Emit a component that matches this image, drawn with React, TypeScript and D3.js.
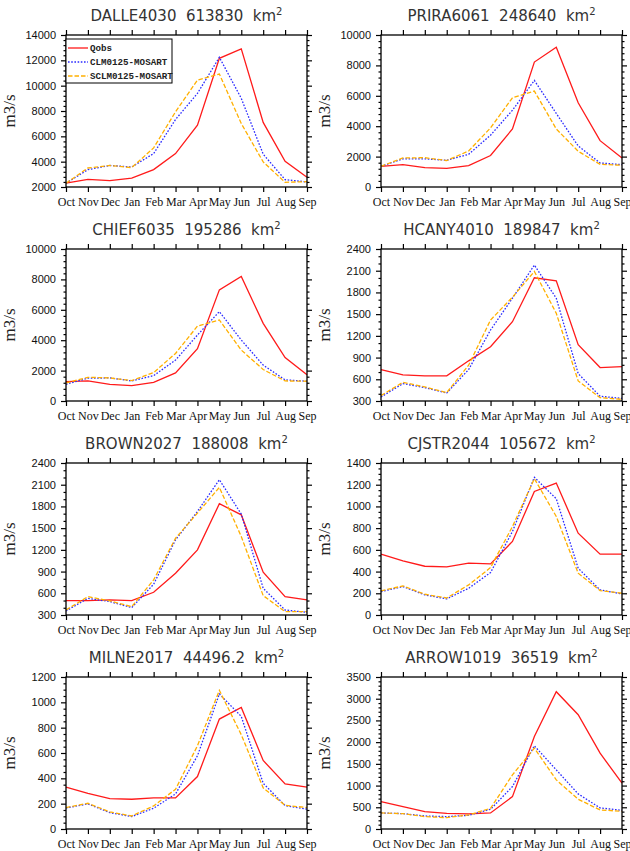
import React, { useRef, useEffect } from "react";
import * as d3 from "d3";

const months = ["Oct", "Nov", "Dec", "Jan", "Feb", "Mar", "Apr", "May", "Jun", "Jul", "Aug", "Sep"];
const seriesNames = ["Qobs", "CLM0125-MOSART", "SCLM0125-MOSART"];
const seriesColors = ["#ff1a1a", "#2b2bff", "#ffb000"];
const seriesDash = [null, "1.6 1.6", "4.5 2"];

const stations = ["DALLE4030", "PRIRA6061", "CHIEF6035", "HCANY4010", "BROWN2027", "CJSTR2044", "MILNE2017", "ARROW1019"];
const areas = ["613830", "248640", "195286", "189847", "188008", "105672", "44496.2", "36519"];

const yMins = [2000, 0, 0, 300, 300, 0, 0, 0];
const yMaxs = [14000, 10000, 10000, 2400, 2400, 1400, 1200, 3500];
const yMajor = [2000, 2000, 2000, 300, 300, 200, 200, 500];
const yMinor = [400, 400, 400, 100, 100, 50, 50, 100];

const dalleObs = [2300, 2600, 2500, 2700, 3370, 4640, 6880, 12160, 12900, 7100, 4030, 2770];
const dalleClm = [2300, 3370, 3700, 3580, 4640, 7330, 9390, 12240, 9000, 4590, 2580, 2400];
const dalleSclm = [2300, 3500, 3700, 3530, 5090, 7940, 10440, 10920, 7010, 3980, 2370, 2420];

const priraObs = [1360, 1470, 1270, 1230, 1410, 2070, 3820, 8220, 9190, 5540, 3050, 1910];
const priraClm = [1360, 1850, 1850, 1760, 2150, 3410, 5050, 7010, 4840, 2700, 1580, 1470];
const priraSclm = [1360, 1910, 1930, 1740, 2370, 3890, 5870, 6310, 3820, 2350, 1490, 1430];

const chiefObs = [1280, 1320, 1100, 1010, 1230, 1850, 3440, 7310, 8190, 5110, 2860, 1720];
const chiefClm = [1100, 1500, 1520, 1320, 1670, 2690, 4340, 5880, 4010, 2360, 1390, 1300];
const chiefSclm = [1190, 1560, 1520, 1340, 1870, 3130, 4930, 5330, 3350, 2070, 1320, 1300];

const hcanyObs = [735, 661, 647, 647, 855, 1049, 1396, 2002, 1960, 1077, 762, 776];
const hcanyClm = [355, 540, 485, 411, 735, 1281, 1720, 2178, 1720, 679, 365, 337];
const hcanySclm = [374, 559, 494, 416, 795, 1419, 1734, 2090, 1512, 577, 346, 323];

const brownObs = [498, 498, 508, 498, 614, 877, 1200, 1837, 1684, 891, 554, 508];
const brownClm = [355, 531, 485, 402, 725, 1338, 1731, 2169, 1694, 669, 369, 337];
const brownSclm = [369, 554, 494, 415, 785, 1361, 1708, 2063, 1384, 568, 346, 346];

const cjstrObs = [560, 498, 449, 443, 477, 471, 677, 1138, 1215, 754, 560, 560];
const cjstrClm = [215, 262, 185, 148, 246, 391, 769, 1268, 1071, 431, 231, 194];
const cjstrSclm = [222, 268, 191, 157, 277, 437, 815, 1255, 908, 385, 225, 200];

const milneObs = [330, 282, 240, 235, 245, 245, 414, 868, 960, 541, 356, 330];
const milneClm = [166, 198, 129, 98, 164, 277, 578, 1066, 889, 361, 185, 156];
const milneSclm = [169, 203, 135, 103, 182, 314, 657, 1095, 744, 325, 187, 169];

const arrowObs = [631, 515, 400, 362, 346, 369, 746, 2131, 3162, 2631, 1746, 1054];
const arrowClm = [369, 354, 300, 285, 315, 454, 977, 1915, 1362, 808, 485, 431];
const arrowSclm = [369, 354, 285, 262, 323, 477, 1246, 1862, 1131, 685, 438, 408];

const panelData = [
  [dalleObs, dalleClm, dalleSclm],
  [priraObs, priraClm, priraSclm],
  [chiefObs, chiefClm, chiefSclm],
  [hcanyObs, hcanyClm, hcanySclm],
  [brownObs, brownClm, brownSclm],
  [cjstrObs, cjstrClm, cjstrSclm],
  [milneObs, milneClm, milneSclm],
  [arrowObs, arrowClm, arrowSclm],
];

const W = 630;
const H = 851;
const colLefts = [66, 381];
const rowTops = [35, 249, 463, 677];
const pw = 241;
const ph = 152;

const App = () => {
  const svgRef = useRef(null);

  useEffect(() => {
    const svg = d3.select(svgRef.current);
    svg.selectAll("*").remove();

    stations.forEach((name, i) => {
      const x0 = colLefts[i % 2];
      const y0 = rowTops[Math.floor(i / 2)];
      const g = svg.append("g").attr("transform", `translate(${x0}, ${y0})`);

      const xScale = d3.scalePoint().domain(months).range([0, pw]);
      const yScale = d3.scaleLinear().domain([yMins[i], yMaxs[i]]).range([ph, 0]);

      const majors = d3.range(yMins[i], yMaxs[i] + 1, yMajor[i]);
      const minors = d3.range(yMins[i], yMaxs[i] + 1, yMinor[i]).filter(v => !majors.includes(v));

      // ticks point outward on all four sides
      const left = d3.axisLeft(yScale).tickValues(majors).tickSize(5).tickPadding(5).tickFormat(d3.format("d"));
      const leftMinor = d3.axisLeft(yScale).tickValues(minors).tickSize(2.5).tickFormat(() => "");
      const right = d3.axisRight(yScale).tickValues(majors).tickSize(5).tickFormat(() => "");
      const rightMinor = d3.axisRight(yScale).tickValues(minors).tickSize(2.5).tickFormat(() => "");
      const bottom = d3.axisBottom(xScale).tickSize(5).tickPadding(5);
      const top = d3.axisTop(xScale).tickSize(5).tickFormat(() => "");

      const styleAxis = sel => {
        sel.select(".domain").remove();
        sel.selectAll("line").attr("stroke", "#000").attr("stroke-width", 1.2);
      };

      g.append("g").call(left).call(styleAxis)
        .selectAll("text")
        .attr("font-family", "Liberation Sans, Arial, sans-serif")
        .attr("font-size", 11)
        .attr("fill", "#111");
      g.append("g").call(leftMinor).call(styleAxis);
      g.append("g").attr("transform", `translate(${pw}, 0)`).call(right).call(styleAxis);
      g.append("g").attr("transform", `translate(${pw}, 0)`).call(rightMinor).call(styleAxis);
      g.append("g").attr("transform", `translate(0, ${ph})`).call(bottom).call(styleAxis)
        .selectAll("text")
        .attr("font-family", "Liberation Serif, Times New Roman, serif")
        .attr("font-size", 12)
        .attr("fill", "#111");
      g.append("g").call(top).call(styleAxis);

      const line = d3.line().x((d, k) => xScale(months[k])).y(d => yScale(d));

      panelData[i].forEach((vals, s) => {
        const path = g.append("path")
          .datum(vals)
          .attr("fill", "none")
          .attr("stroke", seriesColors[s])
          .attr("stroke-width", 1.3)
          .attr("d", line);
        if (seriesDash[s]) path.attr("stroke-dasharray", seriesDash[s]);
      });

      g.append("rect")
        .attr("width", pw).attr("height", ph)
        .attr("fill", "none").attr("stroke", "#000").attr("stroke-width", 1.3);

      const title = g.append("text")
        .attr("x", pw / 2).attr("y", -14)
        .attr("text-anchor", "middle")
        .attr("font-family", "DejaVu Sans, sans-serif")
        .attr("font-size", 15)
        .attr("fill", "#333")
        .style("white-space", "pre")
        .text(`${name}  ${areas[i]}  km`);
      title.append("tspan").attr("font-size", 10).attr("dy", -6).text("2");

      g.append("text")
        .attr("transform", `translate(${-51}, ${ph / 2}) rotate(-90)`)
        .attr("text-anchor", "middle")
        .attr("font-family", "Liberation Serif, serif")
        .attr("font-size", 17)
        .attr("fill", "#222")
        .text("m3/s");

      if (i === 0) {
        const lg = g.append("g");
        lg.append("rect")
          .attr("x", 0).attr("y", 4).attr("width", 106).attr("height", 44)
          .attr("fill", "#fff").attr("stroke", "#000").attr("stroke-width", 1);
        seriesNames.forEach((n, s) => {
          const yy = 13 + s * 14;
          const l = lg.append("line")
            .attr("x1", 2).attr("x2", 22).attr("y1", yy).attr("y2", yy)
            .attr("stroke", seriesColors[s]).attr("stroke-width", 1.3);
          if (seriesDash[s]) l.attr("stroke-dasharray", seriesDash[s]);
          lg.append("text")
            .attr("x", 24).attr("y", yy + 3)
            .attr("font-family", "Liberation Mono, monospace")
            .attr("font-size", 9.2)
            .attr("font-weight", "bold")
            .attr("fill", "#222")
            .text(n);
        });
      }
    });
  }, []);

  return (
    <div>
      <svg ref={svgRef} width={W} height={H} style={{ position: "absolute", left: 0, top: 0, background: "#fff" }}></svg>
    </div>
  );
};

export default App;
